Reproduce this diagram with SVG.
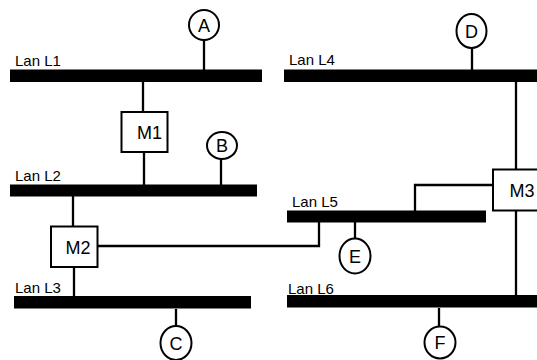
<svg xmlns="http://www.w3.org/2000/svg" width="537" height="360" viewBox="0 0 537 360">
<style>
.bar{fill:#000}
.ln{stroke:#000;stroke-width:2.3;fill:none}
.box{fill:#fff;stroke:#000;stroke-width:2}
.st{fill:#fff;stroke:#000;stroke-width:2}
.lbl{font-family:"Liberation Sans",Arial,sans-serif;font-size:15px;fill:#000}
.nt{font-family:"Liberation Sans",Arial,sans-serif;font-size:18px;fill:#000}
.ct{font-family:"Liberation Sans",Arial,sans-serif;font-size:18px;fill:#000;text-anchor:middle}
</style>
<rect width="537" height="360" fill="#fff"/>
<g id="connectors">
<path class="ln" d="M204,40V70"/>
<path class="ln" d="M143,82V112"/>
<path class="ln" d="M144,152V185"/>
<path class="ln" d="M221,159V185"/>
<path class="ln" d="M73,196V226"/>
<path class="ln" d="M74,267V297"/>
<path class="ln" d="M98,246H319V222"/>
<path class="ln" d="M355,222V238"/>
<path class="ln" d="M472,48V70"/>
<path class="ln" d="M516,82V169"/>
<path class="ln" d="M516,211V296"/>
<path class="ln" d="M493,185H415V211"/>
<path class="ln" d="M176,309V326"/>
<path class="ln" d="M439,308V326"/>
</g>
<g id="L1"><rect class="bar" x="10" y="69.5" width="252" height="12.5"/><text class="lbl" x="15" y="66">Lan L1</text></g>
<g id="L2"><rect class="bar" x="10" y="184.5" width="247" height="12"/><text class="lbl" x="15" y="181">Lan L2</text></g>
<g id="L3"><rect class="bar" x="14" y="296" width="237" height="12.5"/><text class="lbl" x="15" y="293">Lan L3</text></g>
<g id="L4"><rect class="bar" x="284" y="69.5" width="253" height="12.5"/><text class="lbl" x="289" y="65">Lan L4</text></g>
<g id="L5"><rect class="bar" x="287" y="210.5" width="199" height="12"/><text class="lbl" x="292" y="206.5">Lan L5</text></g>
<g id="L6"><rect class="bar" x="287" y="295" width="250" height="12.5"/><text class="lbl" x="288" y="294">Lan L6</text></g>
<g id="M1"><rect class="box" x="121.5" y="112" width="46" height="40"/><text class="nt" x="137" y="139">M1</text></g>
<g id="M2"><rect class="box" x="51" y="226.5" width="46.5" height="40.5"/><text class="nt" x="65.5" y="254">M2</text></g>
<g id="M3"><rect class="box" x="493" y="169.5" width="46" height="41"/><text class="nt" x="509.5" y="196.5">M3</text></g>
<g id="A"><ellipse class="st" cx="204" cy="25" rx="15" ry="15"/><text class="ct" x="204" y="31.5">A</text></g>
<g id="B"><ellipse class="st" cx="222" cy="145.5" rx="15" ry="13.5"/><text class="ct" x="222" y="152">B</text></g>
<g id="C"><ellipse class="st" cx="176" cy="343" rx="15.5" ry="17"/><text class="ct" x="176" y="349.5">C</text></g>
<g id="D"><ellipse class="st" cx="471.5" cy="31" rx="15" ry="17"/><text class="ct" x="471.5" y="37.5">D</text></g>
<g id="E"><ellipse class="st" cx="355" cy="256" rx="15.5" ry="17.5"/><text class="ct" x="355" y="262.5">E</text></g>
<g id="F"><ellipse class="st" cx="440" cy="342.5" rx="15.5" ry="16"/><text class="ct" x="440" y="349">F</text></g>
</svg>
